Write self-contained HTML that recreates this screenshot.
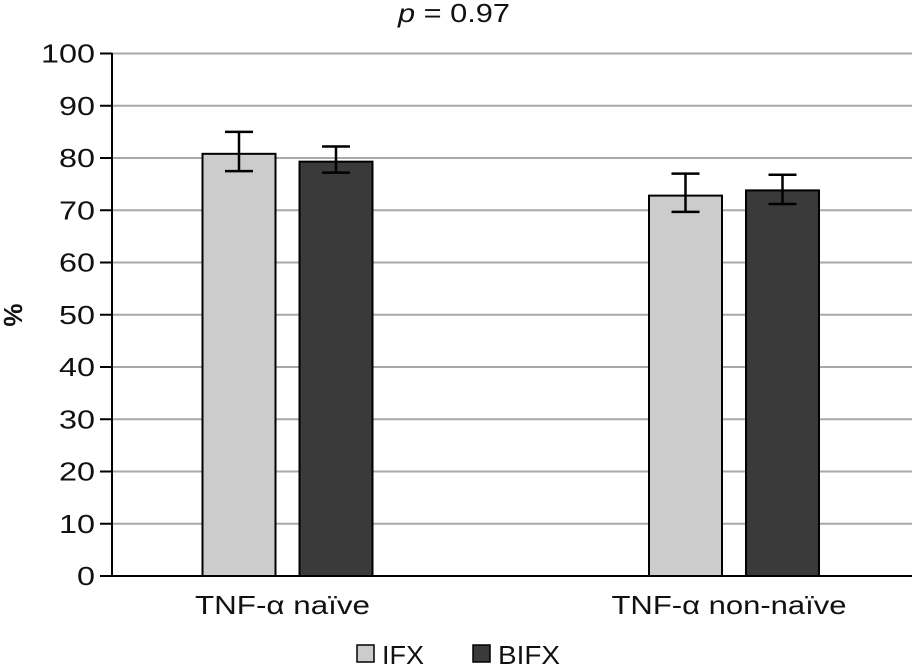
<!DOCTYPE html>
<html><head><meta charset="utf-8"><style>body{margin:0;background:#fff}svg text{font-family:"Liberation Sans",sans-serif}</style></head>
<body>
<svg id="c" width="912" height="666" xmlns="http://www.w3.org/2000/svg"></svg>
<script>
const categories=["TNF-\u03b1 na\u00efve","TNF-\u03b1 non-na\u00efve"];
const seriesNames=["IFX","BIFX"];
const ifxValues=[80.8,72.8];
const bifxValues=[79.3,73.8];
const ifxErrLow=[77.5,69.7];
const ifxErrHigh=[85,77];
const bifxErrLow=[77.2,71.2];
const bifxErrHigh=[82.2,76.8];
const yTicks=[0,10,20,30,40,50,60,70,80,90,100];
const colors=["#cccccc","#3a3a3a"];
const svg=document.getElementById('c');const NS="http://www.w3.org/2000/svg";
function el(t,a,p){const e=document.createElementNS(NS,t);for(const k in a)e.setAttribute(k,a[k]);(p||svg).appendChild(e);return e;}
const y=v=>576-v*5.225;
const groupCenter=[288.5,735];
const bx=(g,s)=>groupCenter[g]+(s===0?-86:11);
for(const t of yTicks){
 if(t>0){const g=el('line',{x1:112,x2:912,y1:y(t),y2:y(t),stroke:'#a8a8a8','stroke-width':2});
 }
 const k=el('line',{x1:100,x2:112,y1:y(t),y2:y(t),stroke:'#000','stroke-width':2});
 
 const tx=el('text',{x:95,y:y(t)+9,'text-anchor':'end','font-size':26,fill:'#111','textLength':String(t).length*18,'lengthAdjust':'spacingAndGlyphs'});tx.textContent=t;
 
}
const vals=[ifxValues,bifxValues],lo=[ifxErrLow,bifxErrLow],hi=[ifxErrHigh,bifxErrHigh];
for(let g=0;g<categories.length;g++){for(let s=0;s<2;s++){
 const x=bx(g,s),v=vals[s][g];
 const r=el('rect',{x:x,y:y(v),width:73,height:576-y(v),fill:colors[s],stroke:'#000','stroke-width':2});
 
 const cx=x+36.5,e=el('path',{d:`M${cx-14},${y(hi[s][g])}H${cx+14}M${cx},${y(hi[s][g])}V${y(lo[s][g])}M${cx-14},${y(lo[s][g])}H${cx+14}`,stroke:'#000','stroke-width':2.5,fill:'none'});
 
}
 const ct=el('text',{x:groupCenter[g]-6,y:614,'text-anchor':'middle','font-size':26,fill:'#111','textLength':g===0?175:235,'lengthAdjust':'spacingAndGlyphs'});ct.textContent=categories[g];
 
}
const ax=el('path',{d:'M112,53V576H912',stroke:'#000','stroke-width':2,fill:'none'});

const yt=el('text',{x:22,y:315,'text-anchor':'middle','font-size':26,'font-weight':'bold',transform:'rotate(-90 22 315)',fill:'#111'});yt.textContent='%';

const pt=el('text',{x:454,y:22,'text-anchor':'middle','font-size':26,fill:'#111','textLength':112,'lengthAdjust':'spacingAndGlyphs'});pt.innerHTML='<tspan font-style="italic">p</tspan> = 0.97';

const lx=[357,473];
const lw=[42,62];
for(let s=0;s<2;s++){
 const r=el('rect',{x:lx[s],y:645,width:17,height:17,fill:colors[s],stroke:'#000','stroke-width':1.5});
 
 const t=el('text',{x:lx[s]+25,y:664,'font-size':26,fill:'#111','textLength':lw[s],'lengthAdjust':'spacingAndGlyphs'});t.textContent=seriesNames[s];
 
}
</script>
</body></html>
